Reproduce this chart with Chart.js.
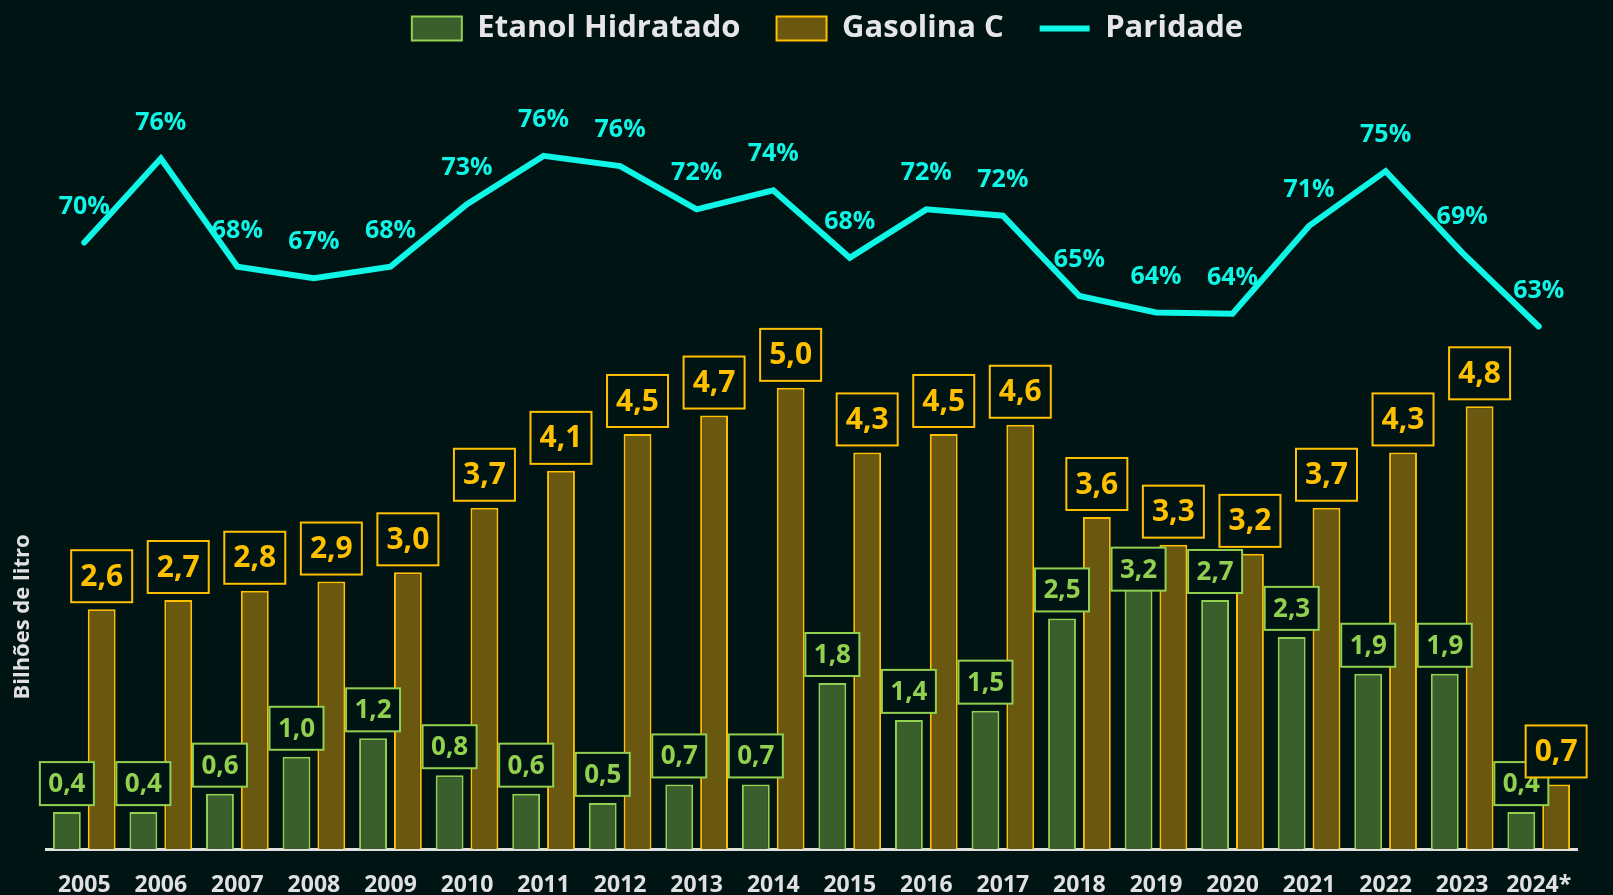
<!DOCTYPE html>
<html>
<head>
<meta charset="utf-8">
<script src="https://cdn.jsdelivr.net/npm/chart.js@4.4.1/dist/chart.umd.min.js"></script>
<style>
  html, body { margin: 0; padding: 0; background: #001414; }
  #wrap { position: relative; width: 1613px; height: 895px; }
</style>
</head>
<body>
<div id="wrap"><canvas id="chart"></canvas></div>
<script>
// data
var anos = ['2005','2006','2007','2008','2009','2010','2011','2012','2013','2014',
            '2015','2016','2017','2018','2019','2020','2021','2022','2023','2024*'];
var etanol = [0.4,0.4,0.6,1.0,1.2,0.8,0.6,0.5,0.7,0.7,1.8,1.4,1.5,2.5,3.2,2.7,2.3,1.9,1.9,0.4];
var gasolina = [2.6,2.7,2.8,2.9,3.0,3.7,4.1,4.5,4.7,5.0,4.3,4.5,4.6,3.6,3.3,3.2,3.7,4.3,4.8,0.7];
var paridade = [69.6,76.2,67.7,66.8,67.7,72.6,76.4,75.6,72.2,73.7,68.4,72.2,71.7,65.4,64.1,64.0,70.9,75.2,68.8,63.0];

var BG = '#001414';
var FONT = "'Open Sans', 'Noto Sans', sans-serif";
var VERDE = '#92d050', VERDE_FILL = '#3b5e2d';
var OURO = '#ffc000', OURO_FILL = '#6a5710';
var CIANO = '#0ff5e6';

function fmt(v) { return v.toFixed(1).replace('.', ','); }

function caixa(ctx, x0, y0, w, h, cor, size, txt) {
    ctx.fillStyle = BG;
    ctx.fillRect(x0, y0, w, h);
    ctx.lineWidth = 2;
    ctx.strokeStyle = cor;
    ctx.strokeRect(x0, y0, w, h);
    ctx.fillStyle = cor;
    ctx.font = 'bold ' + size + 'px ' + FONT;
    ctx.fillText(txt, x0 + w / 2, y0 + h / 2 + 1);
}

// boxed value labels + line percentages + y axis title
var rotulos = {
    id: 'rotulos',
    afterLayout: function (chart) {
        // legend sits a bit right of centre in the original
        chart.legend.left += 16;
        chart.legend.right += 16;
    },
    afterDatasetsDraw: function (chart) {
        var ctx = chart.ctx;
        ctx.save();
        ctx.textAlign = 'center';
        ctx.textBaseline = 'middle';

        var gw = 61, gh = 52, ew = 54, eh = 43, gap = 7;
        var metaE = chart.getDatasetMeta(0);
        var metaG = chart.getDatasetMeta(1);

        // etanol boxes: if they hit the gasolina box, move them under it
        metaE.data.forEach(function (el, k) {
            var g = metaG.data[k];
            var gBottom = g.y - gap;
            var y0 = el.y - gap - eh;
            if (y0 < gBottom && y0 + eh > gBottom - gh) {
                var y1 = gBottom + 10;
                if (y1 + eh < el.y + 0.3 * (el.base - el.y)) y0 = y1;
            }
            caixa(ctx, el.x - ew / 2, y0, ew, eh, VERDE, 26, fmt(etanol[k]));
        });
        metaG.data.forEach(function (el, k) {
            caixa(ctx, el.x - gw / 2, el.y - gap - gh, gw, gh, OURO, 30, fmt(gasolina[k]));
        });

        var metaL = chart.getDatasetMeta(2);
        ctx.fillStyle = CIANO;
        ctx.font = 'bold 25px ' + FONT;
        metaL.data.forEach(function (el, k) {
            ctx.fillText(Math.round(paridade[k]) + '%', el.x, el.y - 36);
        });

        ctx.translate(23, 617);
        ctx.rotate(-Math.PI / 2);
        ctx.fillStyle = '#e0e0e0';
        ctx.font = 'bold 22px ' + FONT;
        ctx.fillText('Bilhões de litro', 0, 0);
        ctx.restore();
    }
};

var ctx = document.getElementById('chart').getContext('2d');

var chart = new Chart(ctx, {
    data: {
        labels: anos,
        datasets: [{
            type: 'bar',
            label: 'Etanol Hidratado',
            data: etanol,
            backgroundColor: VERDE_FILL,
            borderColor: VERDE,
            borderWidth: 2,
            yAxisID: 'y',
            order: 2
        }, {
            type: 'bar',
            label: 'Gasolina C',
            data: gasolina,
            backgroundColor: OURO_FILL,
            borderColor: OURO,
            borderWidth: 2,
            yAxisID: 'y',
            order: 2
        }, {
            type: 'line',
            label: 'Paridade',
            data: paridade,
            borderColor: CIANO,
            backgroundColor: CIANO,
            borderWidth: 6,
            borderCapStyle: 'round',
            pointRadius: 0,
            tension: 0,
            yAxisID: 'y1',
            order: 1
        }]
    },
    options: {
        responsive: true,
        maintainAspectRatio: false,
        animation: false,
        layout: { padding: { left: 46, right: 36, top: -23, bottom: 0 } },
        datasets: { bar: { categoryPercentage: 0.91, barPercentage: 0.8 } },
        plugins: {
            tooltip: { enabled: false },
            legend: {
                position: 'top',
                labels: {
                    color: '#e6e6e6',
                    font: { family: FONT, size: 31, weight: 'bold' },
                    usePointStyle: true,
                    pointStyleWidth: 50,
                    boxHeight: 24,
                    padding: 36,
                    sort: function (a, b) { return a.datasetIndex - b.datasetIndex; },
                    generateLabels: function (chart) {
                        var items = Chart.defaults.plugins.legend.labels.generateLabels(chart);
                        items.forEach(function (it) {
                            it.pointStyle = it.datasetIndex === 2 ? 'line' : 'rect';
                        });
                        return items;
                    }
                }
            }
        },
        scales: {
            x: {
                grid: { display: false, drawTicks: false },
                border: { display: true, color: '#e0e0e0', width: 3 },
                ticks: {
                    color: '#e0e0e0',
                    font: { family: FONT, size: 23, weight: 'bold' },
                    padding: 23,
                    maxRotation: 0
                },
                afterFit: function (s) { s.height = 46; }
            },
            y: {
                display: false,
                min: 0,
                max: 8.62
            },
            y1: {
                display: false,
                min: 21.97,
                max: 84.4
            }
        }
    },
    plugins: [rotulos]
});
</script>
</body>
</html>
